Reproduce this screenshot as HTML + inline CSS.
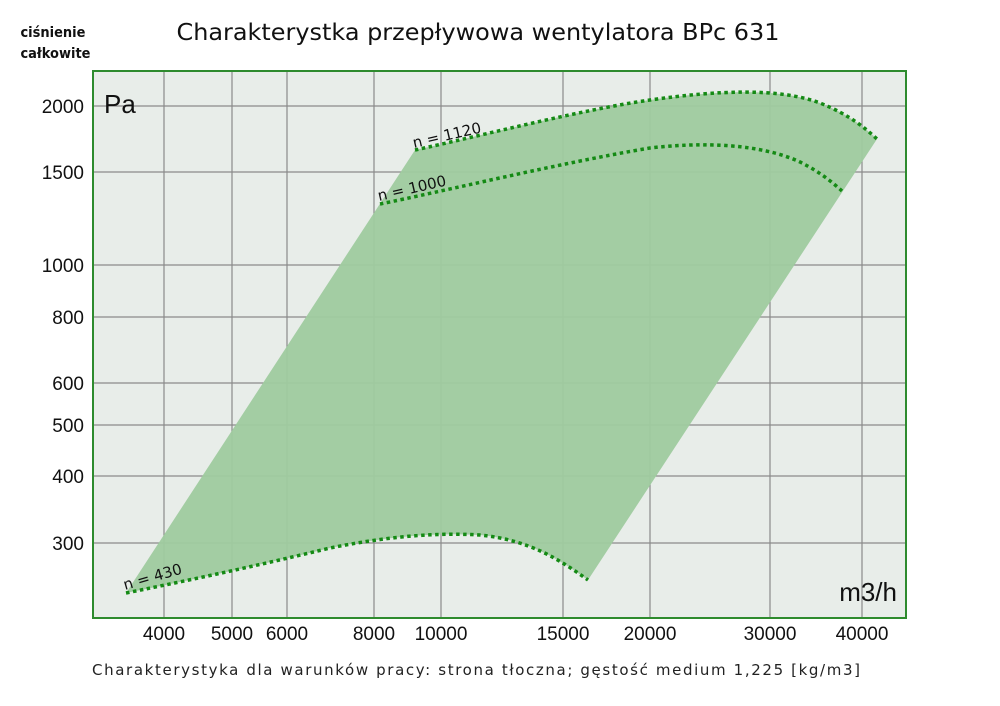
<!DOCTYPE html>
<html><head><meta charset="utf-8"><style>
body{margin:0;background:#fff;width:1000px;height:706px;overflow:hidden}
svg{display:block;font-family:"Liberation Sans","DejaVu Sans",sans-serif}
</style></head><body>
<svg width="1000" height="706" viewBox="0 0 1000 706">
<text x="22" y="37" font-size="14" fill="#111" font-weight="bold" font-family="DejaVu Sans, sans-serif" transform="scale(0.93 1)" >ciśnienie</text>
<text x="22" y="58" font-size="14" fill="#111" font-weight="bold" font-family="DejaVu Sans, sans-serif" transform="scale(0.93 1)">całkowite</text>
<text x="478" y="40" font-size="23" text-anchor="middle" fill="#111" font-family="DejaVu Sans, sans-serif" textLength="603" lengthAdjust="spacingAndGlyphs">Charakterystka przepływowa wentylatora BPc 631</text>
<rect x="93" y="71" width="813" height="547" fill="#e8ede9"/>
<g stroke="#8a8a8a" stroke-width="1.2">
<line x1="164" y1="71" x2="164" y2="618"/><line x1="232" y1="71" x2="232" y2="618"/>
<line x1="287" y1="71" x2="287" y2="618"/><line x1="374" y1="71" x2="374" y2="618"/>
<line x1="441" y1="71" x2="441" y2="618"/><line x1="563" y1="71" x2="563" y2="618"/>
<line x1="650" y1="71" x2="650" y2="618"/><line x1="770" y1="71" x2="770" y2="618"/>
<line x1="862" y1="71" x2="862" y2="618"/>
<line x1="93" y1="106" x2="906" y2="106"/><line x1="93" y1="172" x2="906" y2="172"/>
<line x1="93" y1="265" x2="906" y2="265"/><line x1="93" y1="317" x2="906" y2="317"/>
<line x1="93" y1="383" x2="906" y2="383"/><line x1="93" y1="425" x2="906" y2="425"/>
<line x1="93" y1="476" x2="906" y2="476"/><line x1="93" y1="543" x2="906" y2="543"/>
</g>
<path d="M126,593 L415,150 C480,136 580,110 650,100 C720,90 780,88 820,103 C850,115 865,128 877,139 L588,580 C560,560 530,540 480,535 C430,532 380,538 330,548 C260,565 200,578 126,593Z" fill="#9fcb9f" fill-opacity="0.95"/>
<g fill="none" stroke="#148a14" stroke-width="3.5" stroke-dasharray="3.5 3.5">
<path d="M415,150 C480,136 580,110 650,100 C720,90 780,88 820,103 C850,115 865,128 877,139"/>
<path d="M380,204 C440,192 560,163 650,148 C720,140 770,148 800,162 C820,172 832,182 842,191"/>
<path d="M126,593 C200,578 260,565 330,548 C380,538 430,532 480,535 C530,540 560,560 588,580"/>
</g>
<g font-size="15" fill="#111" font-family="DejaVu Sans, sans-serif">
<text x="414" y="148" transform="rotate(-13 414 148)">n = 1120</text>
<text x="379" y="201" transform="rotate(-13 379 201)">n = 1000</text>
<text x="125" y="590" transform="rotate(-16 125 590)">n = 430</text>
</g>
<rect x="93" y="71" width="813" height="547" fill="none" stroke="#2e8b2e" stroke-width="2"/>
<text x="104" y="113" font-size="26" fill="#111">Pa</text>
<text x="897" y="601" font-size="26" fill="#111" text-anchor="end">m3/h</text>
<g font-size="19" fill="#111" text-anchor="end">
<text x="84" y="113">2000</text><text x="84" y="179">1500</text><text x="84" y="272">1000</text>
<text x="84" y="324">800</text><text x="84" y="390">600</text><text x="84" y="432">500</text>
<text x="84" y="483">400</text><text x="84" y="550">300</text>
</g>
<g font-size="19" fill="#111" text-anchor="middle">
<text x="164" y="640">4000</text><text x="232" y="640">5000</text><text x="287" y="640">6000</text>
<text x="374" y="640">8000</text><text x="441" y="640">10000</text><text x="563" y="640">15000</text>
<text x="650" y="640">20000</text><text x="770" y="640">30000</text><text x="862" y="640">40000</text>
</g>
<text x="92" y="675" font-size="15" fill="#222" font-family="DejaVu Sans, sans-serif" textLength="768" lengthAdjust="spacing">Charakterystyka dla warunków pracy: strona tłoczna; gęstość medium 1,225 [kg/m3]</text>
</svg>
</body></html>
